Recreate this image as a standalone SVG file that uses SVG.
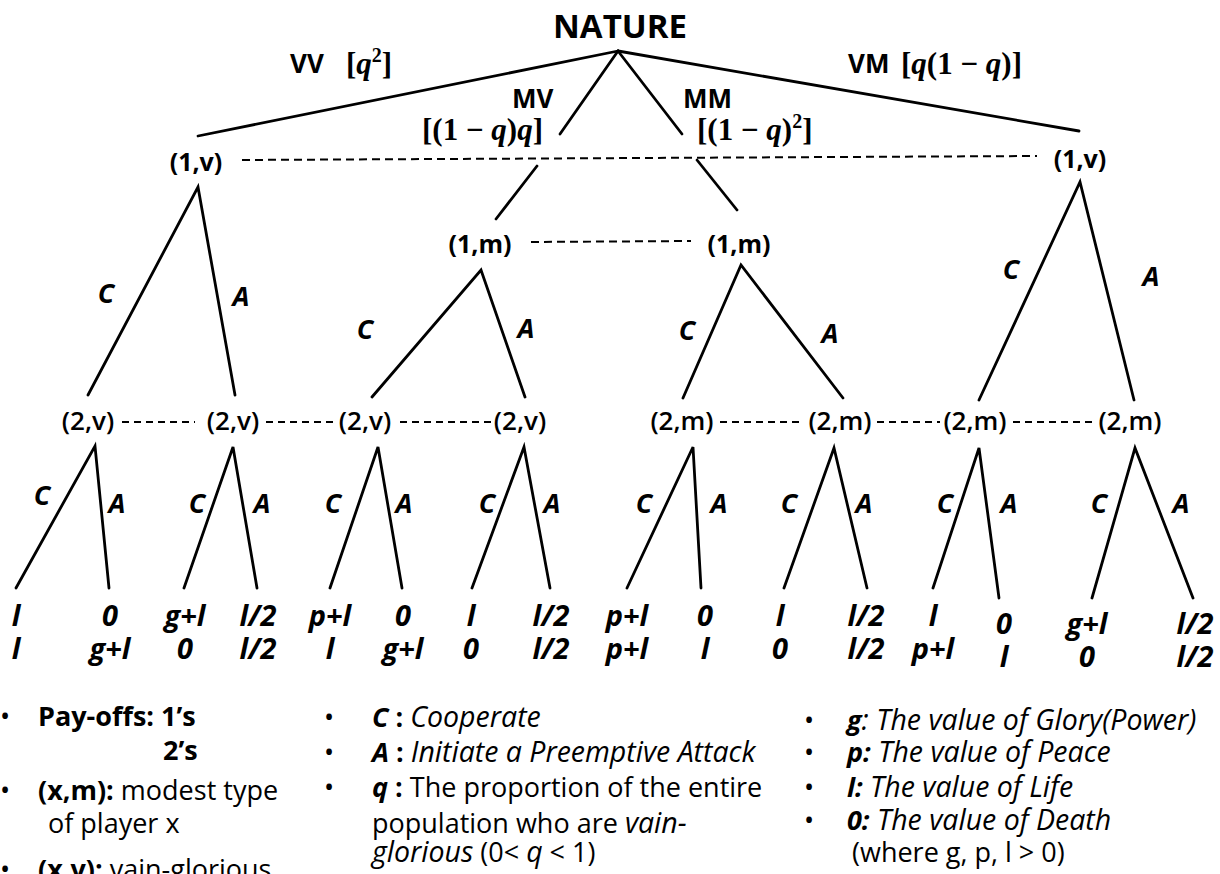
<svg xmlns="http://www.w3.org/2000/svg" width="1220" height="874" viewBox="0 0 1220 874">
<style>
.edge{stroke:#000;stroke-width:2.8;fill:none;stroke-linecap:round}
.info{stroke:#000;stroke-width:2;stroke-dasharray:8 5;fill:none}
.info2{stroke:#000;stroke-width:2;stroke-dasharray:7 5;fill:none}
text{font-family:"Open Sans","Noto Sans","DejaVu Sans",sans-serif;fill:#000}
.root{font-weight:700;font-size:33px;text-anchor:middle}
.n1{font-weight:700;font-size:25px;text-anchor:middle}
.n2{font-weight:600;font-size:26px;text-anchor:middle}
.act{font-weight:700;font-style:italic;font-size:27px;text-anchor:middle}
.pay{font-weight:700;font-style:italic;font-size:29px;text-anchor:middle}
.lab{font-weight:700;font-size:26px}
.math{font-family:"Liberation Serif","DejaVu Serif",serif;font-weight:700;font-size:31px}
.sup{font-size:20px}
.leg{font-size:27px}
.b{font-weight:700}
.i{font-style:italic}
.li{font-style:italic;font-size:28.5px}
.bi{font-weight:700;font-style:italic}
</style>
<rect width="1220" height="874" fill="#fff"/>

<g id="connectors">
  <line class="edge" x1="618" y1="51" x2="198" y2="136"/>
  <line class="edge" x1="618" y1="51" x2="560" y2="134"/>
  <line class="edge" x1="618" y1="51" x2="682" y2="134"/>
  <line class="edge" x1="618" y1="51" x2="1079" y2="131"/>
  <line class="edge" x1="537" y1="166" x2="496" y2="219"/>
  <line class="edge" x1="697" y1="160" x2="737" y2="210"/>
  <line class="info" x1="242" y1="160" x2="1037" y2="156"/>
  <line class="info" x1="531" y1="242" x2="691" y2="241"/>
  <polyline class="edge" points="88,395 198,187 235,395"/>
  <polyline class="edge" points="372,397 481,270 525,397"/>
  <polyline class="edge" points="683,398 741,265 843,398"/>
  <polyline class="edge" points="979,400 1080,182 1134,400"/>
  <line class="info2" x1="122" y1="422" x2="195" y2="422"/>
  <line class="info2" x1="266" y1="422" x2="336" y2="422"/>
  <line class="info2" x1="400" y1="422" x2="492" y2="422"/>
  <line class="info2" x1="720" y1="422" x2="802" y2="422"/>
  <line class="info2" x1="877" y1="422" x2="940" y2="422"/>
  <line class="info2" x1="1013" y1="422" x2="1097" y2="422"/>
  <polyline class="edge" points="16,588 95,446 109,588"/>
  <polyline class="edge" points="184,588 233,447 257,588"/>
  <polyline class="edge" points="330,588 378,447 402,588"/>
  <polyline class="edge" points="472,588 524,447 550,588"/>
  <polyline class="edge" points="627,588 693,447 701,588"/>
  <polyline class="edge" points="784,588 834,448 867,588"/>
  <polyline class="edge" points="933,588 979,448 999,598"/>
  <polyline class="edge" points="1092,598 1135,448 1193,598"/>
</g>

<g id="edge-labels">
  <text class="lab" x="290" y="73">VV</text>
  <text class="math" x="346" y="74">[<tspan class="i">q</tspan><tspan class="sup" dy="-12">2</tspan><tspan dy="12">]</tspan></text>
  <text class="lab" x="512" y="108">MV</text>
  <text class="math" x="422" y="140">[(1 − <tspan class="i">q</tspan>)<tspan class="i">q</tspan>]</text>
  <text class="lab" x="683" y="108">MM</text>
  <text class="math" x="697" y="140">[(1 − <tspan class="i">q</tspan>)<tspan class="sup" dy="-12">2</tspan><tspan dy="12">]</tspan></text>
  <text class="lab" x="848" y="73">VM</text>
  <text class="math" x="901" y="74">[<tspan class="i">q</tspan>(1 − <tspan class="i">q</tspan>)]</text>

  <text class="act" x="106" y="303">C</text><text class="act" x="241" y="306">A</text>
  <text class="act" x="365" y="339">C</text><text class="act" x="526" y="338">A</text>
  <text class="act" x="687" y="340">C</text><text class="act" x="830" y="343">A</text>
  <text class="act" x="1011" y="279">C</text><text class="act" x="1151" y="286">A</text>

  <text class="act" x="42" y="505">C</text><text class="act" x="117" y="513">A</text>
  <text class="act" x="197" y="513">C</text><text class="act" x="262" y="513">A</text>
  <text class="act" x="333" y="513">C</text><text class="act" x="404" y="513">A</text>
  <text class="act" x="487" y="513">C</text><text class="act" x="552" y="513">A</text>
  <text class="act" x="644" y="513">C</text><text class="act" x="719" y="513">A</text>
  <text class="act" x="789" y="513">C</text><text class="act" x="864" y="513">A</text>
  <text class="act" x="945" y="513">C</text><text class="act" x="1009" y="513">A</text>
  <text class="act" x="1099" y="513">C</text><text class="act" x="1181" y="513">A</text>
</g>

<g id="nature"><text class="root" x="620" y="38">NATURE</text></g>
<g id="p1v-left"><text class="n1" x="196" y="171">(1,v)</text></g>
<g id="p1v-right"><text class="n1" x="1080" y="168">(1,v)</text></g>
<g id="p1m-left"><text class="n1" x="480" y="253">(1,m)</text></g>
<g id="p1m-right"><text class="n1" x="739" y="253">(1,m)</text></g>

<g id="p2v-1"><text class="n2" x="88" y="430">(2,v)</text></g>
<g id="p2v-2"><text class="n2" x="233" y="430">(2,v)</text></g>
<g id="p2v-3"><text class="n2" x="365" y="430">(2,v)</text></g>
<g id="p2v-4"><text class="n2" x="520" y="430">(2,v)</text></g>
<g id="p2m-5"><text class="n2" x="682" y="430">(2,m)</text></g>
<g id="p2m-6"><text class="n2" x="840" y="430">(2,m)</text></g>
<g id="p2m-7"><text class="n2" x="975" y="430">(2,m)</text></g>
<g id="p2m-8"><text class="n2" x="1130" y="430">(2,m)</text></g>

<g id="leaf-1"><text class="pay" x="16" y="626">l</text><text class="pay" x="16" y="659">l</text></g>
<g id="leaf-2"><text class="pay" x="110" y="626">0</text><text class="pay" x="110" y="659">g+l</text></g>
<g id="leaf-3"><text class="pay" x="185" y="626">g+l</text><text class="pay" x="185" y="659">0</text></g>
<g id="leaf-4"><text class="pay" x="258" y="626">l/2</text><text class="pay" x="258" y="659">l/2</text></g>
<g id="leaf-5"><text class="pay" x="330" y="626">p+l</text><text class="pay" x="330" y="659">l</text></g>
<g id="leaf-6"><text class="pay" x="403" y="626">0</text><text class="pay" x="403" y="659">g+l</text></g>
<g id="leaf-7"><text class="pay" x="471" y="626">l</text><text class="pay" x="471" y="659">0</text></g>
<g id="leaf-8"><text class="pay" x="551" y="626">l/2</text><text class="pay" x="551" y="659">l/2</text></g>
<g id="leaf-9"><text class="pay" x="627" y="626">p+l</text><text class="pay" x="627" y="659">p+l</text></g>
<g id="leaf-10"><text class="pay" x="705" y="626">0</text><text class="pay" x="705" y="659">l</text></g>
<g id="leaf-11"><text class="pay" x="780" y="626">l</text><text class="pay" x="780" y="659">0</text></g>
<g id="leaf-12"><text class="pay" x="866" y="626">l/2</text><text class="pay" x="866" y="659">l/2</text></g>
<g id="leaf-13"><text class="pay" x="933" y="626">l</text><text class="pay" x="933" y="659">p+l</text></g>
<g id="leaf-14"><text class="pay" x="1004" y="634">0</text><text class="pay" x="1004" y="667">l</text></g>
<g id="leaf-15"><text class="pay" x="1087" y="634">g+l</text><text class="pay" x="1087" y="667">0</text></g>
<g id="leaf-16"><text class="pay" x="1195" y="634">l/2</text><text class="pay" x="1195" y="667">l/2</text></g>

<g id="legend">
  <text class="leg" x="0" y="726">•</text>
  <text class="leg b" x="38" y="726">Pay-offs: 1’s</text>
  <text class="leg b" x="163" y="760">2’s</text>
  <text class="leg" x="0" y="800">•</text>
  <text class="leg" x="38" y="800"><tspan class="b">(x,m):</tspan> modest type</text>
  <text class="leg" x="48" y="833">of player x</text>
  <text class="leg" x="0" y="879">•</text>
  <text class="leg" x="38" y="879"><tspan class="b">(x,v):</tspan> vain-glorious</text>

  <text class="leg" x="324" y="727">•</text>
  <text class="leg" x="372" y="727"><tspan class="bi">C</tspan><tspan class="b"> : </tspan><tspan class="li">Cooperate</tspan></text>
  <text class="leg" x="324" y="762">•</text>
  <text class="leg" x="372" y="762"><tspan class="bi">A</tspan><tspan class="b"> : </tspan><tspan class="li">Initiate a Preemptive Attack</tspan></text>
  <text class="leg" x="324" y="797">•</text>
  <text class="leg" x="372" y="797"><tspan class="bi">q</tspan><tspan class="b"> : </tspan>The proportion of the entire</text>
  <text class="leg" x="372" y="833">population who are <tspan class="li">vain-</tspan></text>
  <text class="leg" x="372" y="862"><tspan class="li">glorious</tspan> (0&lt; <tspan class="li">q</tspan> &lt; 1)</text>

  <text class="leg" x="804" y="730">•</text>
  <text class="leg" x="847" y="730"><tspan class="bi">g</tspan><tspan class="li">: The value of Glory(Power)</tspan></text>
  <text class="leg" x="804" y="762">•</text>
  <text class="leg" x="847" y="762"><tspan class="bi">p:</tspan><tspan class="li"> The value of Peace</tspan></text>
  <text class="leg" x="804" y="797">•</text>
  <text class="leg" x="847" y="797"><tspan class="bi">l:</tspan><tspan class="li"> The value of Life</tspan></text>
  <text class="leg" x="804" y="830">•</text>
  <text class="leg" x="847" y="830"><tspan class="bi">0:</tspan><tspan class="li"> The value of Death</tspan></text>
  <text class="leg" x="852" y="862">(where g, p, l &gt; 0)</text>
</g>
</svg>
